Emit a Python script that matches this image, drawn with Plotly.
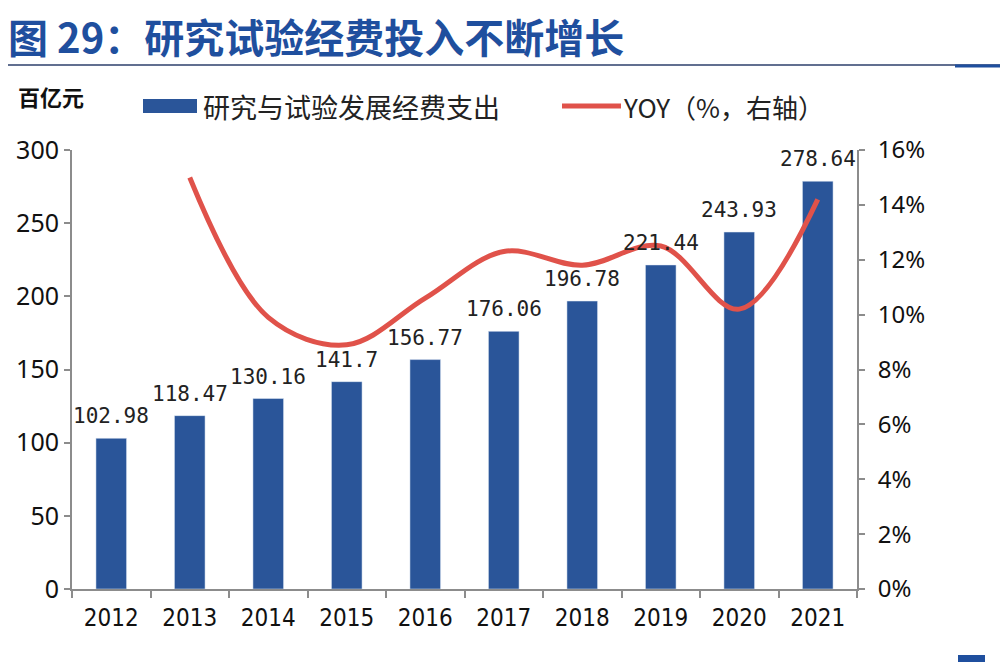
import plotly.graph_objects as go

years = ["2012", "2013", "2014", "2015", "2016", "2017", "2018", "2019", "2020", "2021"]
spend = [102.98, 118.47, 130.16, 141.7, 156.77, 176.06, 196.78, 221.44, 243.93, 278.64]
yoy_years = ["2013", "2014", "2015", "2016", "2017", "2018", "2019", "2020", "2021"]
yoy = [15.0, 9.9, 8.9, 10.6, 12.3, 11.8, 12.5, 10.2, 14.2]
left_ticks = [0, 50, 100, 150, 200, 250, 300]
right_ticks = [0, 2, 4, 6, 8, 10, 12, 14, 16]

BLUE = "#2a5599"
RED = "#e0524a"
AX = "#8c8c8c"
L, R, T, B = 72, 143, 150, 73
PW, PH = 1000 - L - R, 662 - T - B


def px(x):
    return (x - L) / PW


def py(y):
    return (662 - B - y) / PH


fig = go.Figure()
fig.add_trace(go.Bar(
    x=years, y=spend, name="研究与试验发展经费支出",
    marker_color=BLUE, width=0.39, showlegend=False,
))
fig.add_trace(go.Scatter(
    x=yoy_years, y=yoy, yaxis="y2", mode="lines",
    line=dict(color=RED, width=5, shape="spline", smoothing=1.0),
    showlegend=False,
))
for i, v in enumerate(spend):
    fig.add_annotation(x=i, y=v, xref="x", yref="y", text=f"{v:g}", showarrow=False,
                       yanchor="bottom", yshift=8,
                       font=dict(family="DejaVu Sans Mono, monospace", size=21, color="#222"))

fig.update_layout(
    width=1000, height=662,
    margin=dict(l=L, r=R, t=T, b=B),
    paper_bgcolor="white", plot_bgcolor="white",
    xaxis=dict(
        type="category", categoryorder="array", categoryarray=years,
        range=[-0.5, len(years) - 0.5],
        showline=True, linecolor=AX, linewidth=2,
        ticks="outside", tickson="boundaries", ticklen=7, tickcolor=AX, tickwidth=2,
        ticklabelstandoff=6,
        tickfont=dict(family="DejaVu Sans Condensed, Liberation Sans Narrow, sans-serif", size=24, color="#111"),
        showgrid=False, zeroline=False,
    ),
    yaxis=dict(
        range=[0, 300], tickvals=left_ticks, showline=True, linecolor=AX, linewidth=2,
        ticks="outside", ticklen=6, tickcolor=AX, tickwidth=2,
        tickfont=dict(family="Noto Sans, sans-serif", size=25, color="#111"),
        showgrid=False, zeroline=False,
    ),
    yaxis2=dict(
        range=[0, 16], tickvals=right_ticks, ticktext=[f"{t}%" for t in right_ticks],
        overlaying="y", side="right", showline=True, linecolor=AX, linewidth=2,
        ticks="outside", ticklen=6, tickcolor=AX, tickwidth=2,
        ticklabelstandoff=8,
        tickfont=dict(family="Noto Sans, sans-serif", size=24, color="#111"),
        showgrid=False, zeroline=False,
    ),
    font=dict(family="Noto Sans CJK SC"),
)

# Title and header
fig.add_annotation(xref="paper", yref="paper", x=px(6), y=py(36), xanchor="left", yanchor="middle",
                   text="<b>图 29：研究试验经费投入不断增长</b>", showarrow=False,
                   font=dict(family="Noto Sans CJK SC", size=40, color="#1f4f9e"))
fig.add_shape(type="line", xref="paper", yref="paper", x0=px(8), x1=px(1000), y0=py(65), y1=py(65),
              line=dict(color="#2d3f6b", width=1.5))
fig.add_shape(type="line", xref="paper", yref="paper", x0=px(955), x1=px(1000), y0=py(66), y1=py(66),
              line=dict(color="#1f4f9e", width=3))
fig.add_annotation(xref="paper", yref="paper", x=px(16), y=py(96), xanchor="left", yanchor="middle",
                   text="<b>百亿元</b>", showarrow=False,
                   font=dict(family="Noto Sans CJK SC", size=22, color="#111"))
# Legend
fig.add_shape(type="rect", xref="paper", yref="paper", x0=px(143), x1=px(197),
              y0=py(113), y1=py(99), fillcolor=BLUE, line_width=0)
fig.add_annotation(xref="paper", yref="paper", x=px(201), y=py(106), xanchor="left", yanchor="middle",
                   text="研究与试验发展经费支出", showarrow=False,
                   font=dict(family="Noto Sans CJK SC", size=27, color="#222"))
fig.add_shape(type="line", xref="paper", yref="paper", x0=px(562), x1=px(621),
              y0=py(106), y1=py(106), line=dict(color=RED, width=5))
fig.add_annotation(xref="paper", yref="paper", x=px(621), y=py(106), xanchor="left", yanchor="middle",
                   text="YOY（%，右轴）", showarrow=False,
                   font=dict(family="Noto Sans CJK SC", size=26, color="#222"))
fig.add_shape(type="rect", xref="paper", yref="paper", x0=px(958), x1=px(985),
              y0=py(662), y1=py(655), fillcolor="#1f4f9e", line_width=0)

fig.write_html("out.html", config={"displayModeBar": False},
               post_script="document.body.style.margin='0';")
